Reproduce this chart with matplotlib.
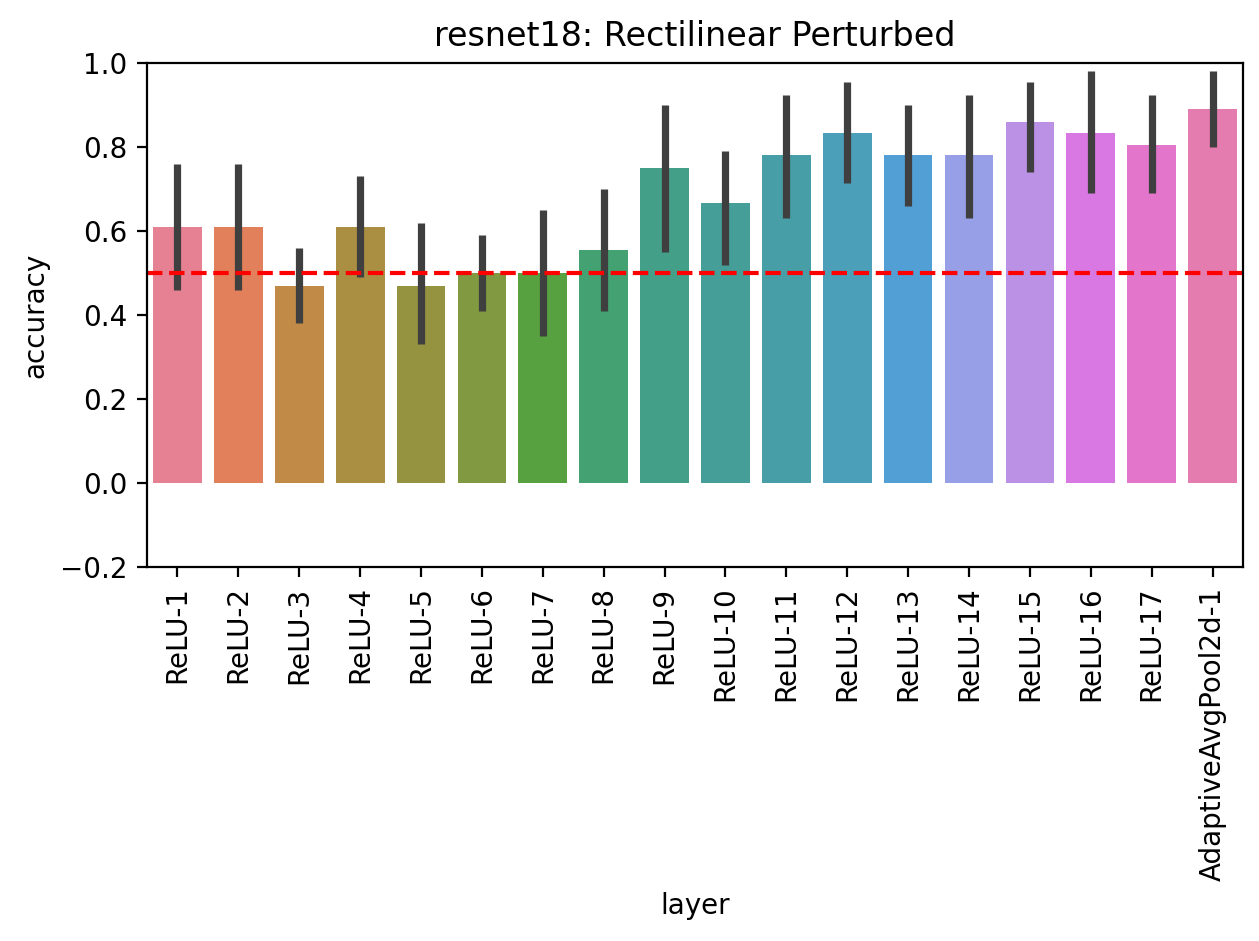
import matplotlib
matplotlib.use("Agg")
import matplotlib.pyplot as plt
import seaborn as sns

# 数据
layers = [f"ReLU-{i}" for i in range(1, 18)] + ["AdaptiveAvgPool2d-1"]
acc = [0.61, 0.61, 0.47, 0.61, 0.47, 0.50, 0.50, 0.555, 0.75, 0.667,
       0.78, 0.833, 0.78, 0.78, 0.86, 0.833, 0.806, 0.89]
ci_lo = [0.46, 0.46, 0.38, 0.49, 0.33, 0.41, 0.35, 0.41, 0.55, 0.52,
         0.63, 0.715, 0.66, 0.63, 0.74, 0.69, 0.69, 0.80]
ci_hi = [0.76, 0.76, 0.56, 0.73, 0.62, 0.59, 0.65, 0.70, 0.90, 0.79,
         0.925, 0.955, 0.90, 0.925, 0.955, 0.98, 0.925, 0.98]

colors = [sns.desaturate(c, 0.75) for c in sns.husl_palette(len(layers))]

fig, ax = plt.subplots(figsize=(6.295, 4.705), dpi=200)
x = range(len(layers))
ax.bar(x, acc, width=0.8, color=colors)
ax.vlines(x, ci_lo, ci_hi, color="#3f3f3f", linewidth=2.6)
ax.axhline(0.5, color="red", linestyle="--")
ax.set_xticks(list(x))
ax.set_xticklabels(layers, rotation=90)
ax.set_xlim(-0.5, len(layers) - 0.5)
ax.set_ylim(-0.2, 1.0)
ax.set_xlabel("layer")
ax.set_ylabel("accuracy")
ax.set_title("resnet18: Rectilinear Perturbed")
plt.subplots_adjust(left=0.1168, right=0.9873, top=0.933, bottom=0.3974)
plt.savefig("out.png")
